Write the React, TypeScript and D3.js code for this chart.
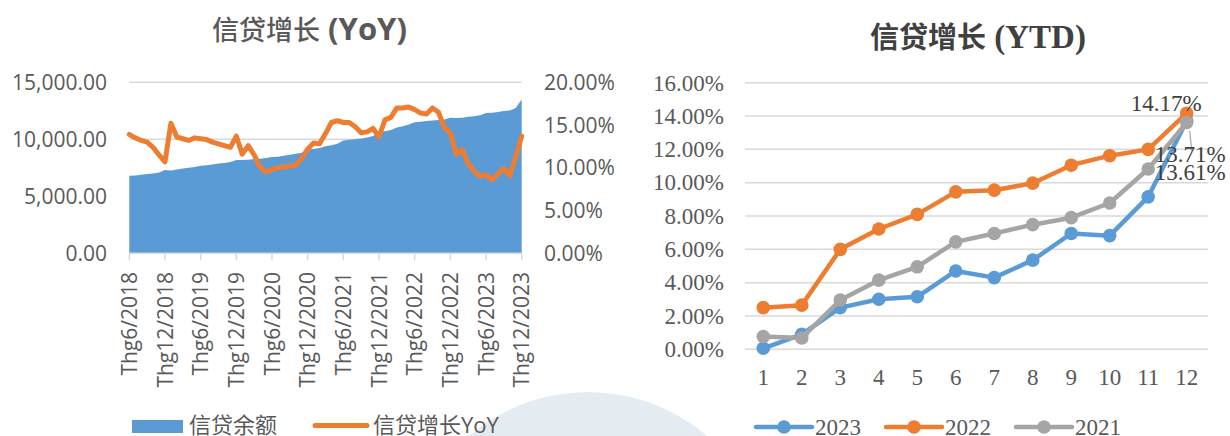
import React from "react";
import * as d3 from "d3";

// ---------- Left chart data (monthly, Thg6/2018 .. Thg12/2023) ----------
const startYear = 2018;
const startMonth = 6;
const creditBalance: number[] = [
  6800, 6830, 6880, 6960, 7010, 7080, 7300,
  7270, 7340, 7440, 7500, 7580, 7680, 7720, 7780, 7870, 7930, 8000, 8180,
  8190, 8200, 8280, 8290, 8360, 8440, 8470, 8550, 8650, 8740, 8830, 9120,
  9160, 9230, 9380, 9480, 9600, 9900, 9950, 10000, 10080, 10150, 10280, 10620,
  10700, 10820, 11030, 11150, 11300, 11500, 11540, 11600, 11660, 11700, 11740, 11900,
  11870, 11880, 11980, 12020, 12120, 12300, 12330, 12400, 12480, 12520, 12750, 13500,
];
const creditYoY: number[] = [
  13.9, 13.5, 13.2, 13.0, 12.4, 11.5, 10.7,
  15.2, 13.6, 13.4, 13.2, 13.5, 13.4, 13.3, 13.0, 12.8, 12.6, 12.4, 13.7,
  11.6, 12.6, 11.5, 10.1, 9.5, 9.8, 10.0, 10.1, 10.2, 10.3, 11.1, 12.2,
  12.9, 12.8, 14.0, 15.3, 15.5, 15.3, 15.3, 14.8, 14.1, 14.2, 14.6, 13.6,
  15.6, 15.9, 17.0, 17.0, 17.1, 16.8, 16.4, 16.3, 17.0, 16.5, 14.7, 14.1,
  11.6, 12.1, 10.5, 9.6, 9.0, 9.2, 8.6, 9.3, 9.9, 9.1, 11.3, 13.7,
];
const leftTicks: number[] = [0, 5000, 10000, 15000];
const rightTicks: number[] = [0, 5, 10, 15, 20];
const leftLegend: string[] = ["信贷余额", "信贷增长YoY"];

// ---------- Right chart data ----------
const monthsYTD: number[] = [1, 2, 3, 4, 5, 6, 7, 8, 9, 10, 11, 12];
const ytd2023: number[] = [0.06, 0.9, 2.5, 3.0, 3.15, 4.7, 4.3, 5.35, 6.95, 6.82, 9.15, 13.71];
const ytd2022: number[] = [2.5, 2.65, 6.0, 7.22, 8.1, 9.45, 9.55, 9.97, 11.05, 11.62, 12.0, 14.17];
const ytd2021: number[] = [0.77, 0.68, 2.96, 4.15, 4.95, 6.45, 6.95, 7.48, 7.9, 8.78, 10.82, 13.61];
const ytdTicks: number[] = [0, 2, 4, 6, 8, 10, 12, 14, 16];
const seriesNames: string[] = ["2023", "2022", "2021"];

const BLUE = "#5B9BD5";
const ORANGE = "#ED7D31";
const GRAY = "#A5A5A5";
const TEXT = "#595959";
const GRID = "#D9D9D9";
const SANS = "'Open Sans', 'Noto Sans CJK SC', sans-serif";
const CJK = "'Noto Sans CJK SC', 'Open Sans', sans-serif";
const SERIF = "'Liberation Serif', 'Noto Sans CJK SC', serif";

const monthLabel = (i: number) => {
  const m0 = startMonth - 1 + i;
  const y = startYear + Math.floor(m0 / 12);
  const m = (m0 % 12) + 1;
  return `Thg${m}/${y}`;
};

export default function App() {
  // left chart scales
  const idx = creditBalance.map((_, i) => i);
  const xL = d3.scaleLinear().domain([0, idx.length - 1]).range([129.3, 521.7]);
  const yL = d3.scaleLinear().domain([0, 15000]).range([253.3, 82.3]);
  const yP = d3.scaleLinear().domain([0, 20]).range([253.3, 82.3]);
  const area = d3
    .area<number>()
    .x((_, i) => xL(i))
    .y0(yL(0))
    .y1((d) => yL(d));
  const line = d3
    .line<number>()
    .x((_, i) => xL(i))
    .y((d) => yP(d));
  const tickIdx = idx.filter((i) => i % 6 === 0);

  // right chart scales
  const xR = d3.scalePoint<number>().domain(monthsYTD).range([763.3, 1186.7]);
  const yR = d3.scaleLinear().domain([0, 16]).range([349.3, 82.7]);
  const lineR = d3
    .line<number>()
    .x((_, i) => xR(monthsYTD[i]) as number)
    .y((d) => yR(d));
  const series = [
    { name: seriesNames[0], data: ytd2023, color: BLUE },
    { name: seriesNames[1], data: ytd2022, color: ORANGE },
    { name: seriesNames[2], data: ytd2021, color: GRAY },
  ];
  const last = monthsYTD.length - 1;
  const xLast = xR(monthsYTD[last]) as number;
  const fmt = (v: number) => v.toFixed(2) + "%";
  const legendX = [756, 886, 1016];

  return (
    <div style={{ position: "fixed", left: 0, top: 0 }}>
      <svg width={1230} height={436} style={{ display: "block", background: "#fff" }}>
        {/* watermark */}
        <circle cx={588} cy={575} r={183} fill="#E4ECF2" />

        {/* ---------------- Left chart ---------------- */}
        <text x={212} y={40} fill={TEXT} fontFamily={SANS}>
          <tspan fontSize={27} fontFamily={CJK} fontWeight={500}>信贷增长</tspan>
          <tspan fontSize={31} fontWeight="bold"> (YoY)</tspan>
        </text>
        {leftTicks.map((t) => (
          <line key={"g" + t} x1={xL(0)} x2={xL(idx.length - 1)} y1={yL(t)} y2={yL(t)} stroke={GRID} strokeWidth={1.5} />
        ))}
        <path d={area(creditBalance) || ""} fill={BLUE} />
        <line x1={xL(0)} x2={xL(idx.length - 1)} y1={yL(0)} y2={yL(0)} stroke={GRID} strokeWidth={1.5} />
        {tickIdx.map((i) => (
          <line key={"t" + i} x1={xL(i)} x2={xL(i)} y1={yL(0)} y2={yL(0) + 7} stroke={GRID} strokeWidth={1.5} />
        ))}
        <path d={line(creditYoY) || ""} fill="none" stroke={ORANGE} strokeWidth={5} strokeLinejoin="round" strokeLinecap="round" />
        {leftTicks.map((t) => (
          <text key={"ll" + t} x={107} y={yL(t)} dy="0.36em" textAnchor="end" fontSize={21} fill={TEXT} fontFamily={SANS}>
            {d3.format(",.2f")(t)}
          </text>
        ))}
        {rightTicks.map((t) => (
          <text key={"rl" + t} x={544} y={yP(t)} dy="0.36em" textAnchor="start" fontSize={21} fill={TEXT} fontFamily={SANS}>
            {t.toFixed(2) + "%"}
          </text>
        ))}
        {tickIdx.map((i) => (
          <text
            key={"xl" + i}
            transform={`translate(${xL(i)},272) rotate(-90)`}
            dy="0.36em"
            textAnchor="end"
            fontSize={21}
            fill={TEXT}
            fontFamily={SANS}
          >
            {monthLabel(i)}
          </text>
        ))}
        {/* left legend */}
        <rect x={132} y={420} width={51} height={13} fill={BLUE} />
        <text x={189} y={432.5} fontSize={22} fill={TEXT} fontFamily={CJK}>{leftLegend[0]}</text>
        <line x1={315} x2={367} y1={425.5} y2={425.5} stroke={ORANGE} strokeWidth={5} strokeLinecap="round" />
        <text x={373} y={432.5} fontSize={22} fill={TEXT} fontFamily={SANS}>{leftLegend[1]}</text>

        {/* ---------------- Right chart ---------------- */}
        <text x={870} y={48} fill="#404040" fontWeight="bold" fontFamily={SERIF}>
          <tspan fontSize={29} fontFamily={CJK}>信贷增长</tspan>
          <tspan fontSize={33}> (YTD)</tspan>
        </text>
        {ytdTicks.map((t) => (
          <line key={"rg" + t} x1={745} x2={1208} y1={yR(t)} y2={yR(t)} stroke={GRID} strokeWidth={1.5} />
        ))}
        {ytdTicks.map((t) => (
          <text key={"ry" + t} x={724} y={yR(t)} dy="0.34em" textAnchor="end" fontSize={23} fill={TEXT} fontFamily={SERIF}>
            {fmt(t)}
          </text>
        ))}
        {monthsYTD.map((m) => (
          <text key={"rx" + m} x={xR(m) as number} y={385} textAnchor="middle" fontSize={23} fill={TEXT} fontFamily={SERIF}>
            {m}
          </text>
        ))}
        {series.map((s) => (
          <g key={s.name}>
            <path d={lineR(s.data) || ""} fill="none" stroke={s.color} strokeWidth={4.5} strokeLinejoin="round" />
            {s.data.map((v, i) => (
              <circle key={i} cx={xR(monthsYTD[i]) as number} cy={yR(v)} r={6.8} fill={s.color} />
            ))}
          </g>
        ))}
        {/* data labels */}
        <text x={xLast - 56} y={yR(ytd2022[last]) - 2.5} fontSize={23} fill="#404040" fontFamily={SERIF}>
          {fmt(ytd2022[last])}
        </text>
        <path
          d={`M${xLast + 3},${yR(ytd2023[last]) + 10} L${xLast + 5},${yR(ytd2023[last]) + 30}`}
          stroke="#A6A6A6"
          strokeWidth={1.2}
          fill="none"
        />
        <text x={xLast - 32} y={yR(ytd2023[last]) + 41} fontSize={23} fill="#404040" fontFamily={SERIF}>
          {fmt(ytd2023[last])}
        </text>
        <text x={xLast - 32} y={yR(ytd2021[last]) + 57} fontSize={23} fill="#404040" fontFamily={SERIF}>
          {fmt(ytd2021[last])}
        </text>
        {/* right legend */}
        {series.map((s, k) => (
          <g key={"lg" + s.name}>
            <line x1={legendX[k]} x2={legendX[k] + 56} y1={427} y2={427} stroke={s.color} strokeWidth={4.5} strokeLinecap="round" />
            <circle cx={legendX[k] + 28} cy={427} r={6.8} fill={s.color} />
            <text x={legendX[k] + 59} y={434.5} fontSize={23} fill={TEXT} fontFamily={SERIF}>
              {s.name}
            </text>
          </g>
        ))}
      </svg>
    </div>
  );
}
